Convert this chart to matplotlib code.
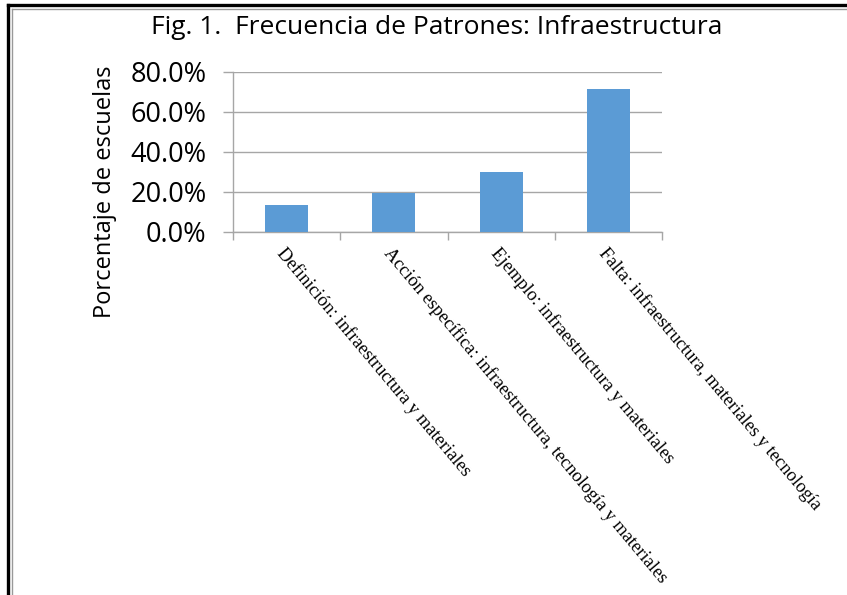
import matplotlib.pyplot as plt
from matplotlib.lines import Line2D
from matplotlib.ticker import PercentFormatter

categories = [
    'Definición: infraestructura y materiales',
    'Acción específica: infraestructura, tecnología y materiales',
    'Ejemplo: infraestructura y materiales',
    'Falta: infraestructura, materiales y tecnología',
]
percentages = [13.6, 19.5, 30.2, 71.4]
y_ticks = [0, 20, 40, 60, 80]

W, H = 847, 595
fig = plt.figure(figsize=(W / 100, H / 100), dpi=100)
fig.patch.set_facecolor('white')

# double frame, left and top edges
def fx(px):
    return px / W

def fy(py):
    return 1 - py / H

fig.add_artist(Line2D([fx(8), fx(8)], [fy(5), 0], color='black', lw=2.4))
fig.add_artist(Line2D([fx(8), 1], [fy(5), fy(5)], color='black', lw=2.4))
fig.add_artist(Line2D([fx(12), fx(12)], [fy(8.5), 0], color='#999999', lw=1.0))
fig.add_artist(Line2D([fx(12), 1], [fy(8.5), fy(8.5)], color='#999999', lw=1.0))

ax = fig.add_axes([fx(233), fy(232), fx(662) - fx(233), fy(72) - fy(232)])
x = range(len(categories))
ax.bar(x, percentages, width=0.4, color='#5B9BD5', zorder=3)

ax.set_xlim(-0.5, len(categories) - 0.5)
ax.set_ylim(0, 80)
ax.set_yticks(y_ticks)
ax.yaxis.set_major_formatter(PercentFormatter(decimals=1))
ax.grid(axis='y', color='#A6A6A6', lw=1.0, zorder=0)

for s in ['top', 'right']:
    ax.spines[s].set_visible(False)
for s in ['left', 'bottom']:
    ax.spines[s].set_color('#A6A6A6')
    ax.spines[s].set_linewidth(1.0)

ax.tick_params(axis='y', colors='#A6A6A6', length=7, width=1.0, pad=12,
               labelcolor='black', labelsize=19.5)
for t in ax.get_yticklabels():
    t.set_fontfamily('Open Sans')

# category boundaries as minor ticks, labels at centres
ax.set_xticks(list(x))
ax.set_xticks([i + 0.5 for i in range(-1, len(categories))], minor=True)
ax.tick_params(axis='x', which='major', length=0, pad=9)
ax.tick_params(axis='x', which='minor', length=6, width=1.0, colors='#A6A6A6')
ax.set_xticklabels(categories, rotation=-50, ha='left', va='top',
                   rotation_mode='anchor', fontsize=13.3, family='Liberation Serif')

fig.text(fx(437), fy(28), 'Fig. 1.  Frecuencia de Patrones: Infraestructura',
         ha='center', va='center', fontsize=19, family='Open Sans')
fig.text(fx(105), fy(192), 'Porcentaje de escuelas', rotation=90,
         ha='center', va='center', fontsize=17, family='Open Sans')

fig.savefig('out.png', dpi=100)
